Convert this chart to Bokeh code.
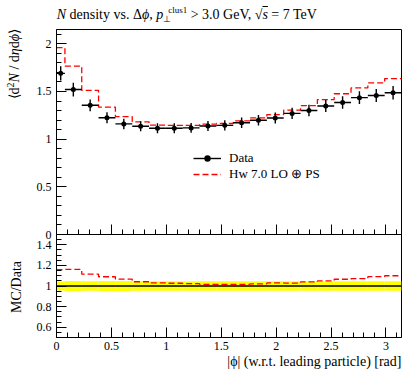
import math
from bokeh.plotting import figure
from bokeh.models import (Range1d, SingleIntervalTicker, FixedTicker, CustomJSTickFormatter,
                          Legend, LegendItem, LinearAxis, Title, Div, Span)
from bokeh.layouts import column, row
from bokeh.embed import file_html
from bokeh.resources import INLINE

# ---------------- data ----------------
n_bins_equiv = 20.5          # 20 full bins + a half bin starting at 0
data_vals = [1.69, 1.52, 1.355, 1.225, 1.16, 1.135, 1.115, 1.115, 1.118, 1.138, 1.145,
             1.172, 1.198, 1.222, 1.27, 1.30, 1.348, 1.385, 1.435, 1.458, 1.487]
data_errs = [0.075, 0.072, 0.062, 0.058, 0.055, 0.052, 0.052, 0.052, 0.052, 0.053, 0.054,
             0.055, 0.056, 0.057, 0.059, 0.061, 0.063, 0.065, 0.067, 0.068, 0.070]
mc_vals = [1.96, 1.765, 1.511, 1.335, 1.237, 1.182, 1.148, 1.145, 1.144, 1.157, 1.164,
           1.191, 1.223, 1.258, 1.305, 1.352, 1.415, 1.476, 1.537, 1.59, 1.635]
data_label = "Data"
mc_label = "Hw 7.0 LO \u2295 PS"
top_major_ticks = [0, 0.5, 1, 1.5, 2]
top_minor_ticks = [0.1, 0.2, 0.3, 0.4, 0.6, 0.7, 0.8, 0.9, 1.1, 1.2, 1.3, 1.4,
                   1.6, 1.7, 1.8, 1.9, 2.1]
ratio_major_ticks = [0.6, 0.8, 1.0, 1.2, 1.4]
ratio_minor_ticks = [0.55, 0.65, 0.7, 0.75, 0.85, 0.9, 0.95, 1.05, 1.1, 1.15,
                     1.25, 1.3, 1.35, 1.45]
title_html = ("<i>N</i> density vs. \u0394<i>\u03d5</i>, <i>p</i>"
              "<span style='font-size:9px;position:relative;top:3px'>\u22a5</span>"
              "<span style='font-size:9px;position:relative;top:-6px;margin-left:-3px'>clus1</span>"
              " &gt; 3.0 GeV, \u221a<span style='text-decoration:overline'><i>s</i></span> = 7 TeV")
ylabel_top_html = ("\u27e8d<span style='font-size:10px;position:relative;top:-5px'>2</span>"
                   "<i>N</i> / d<i>\u03b7</i>d<i>\u03d5</i>\u27e9")
ylabel_bot_text = "MC/Data"
xlabel_text = "|\u03d5| (w.r.t. leading particle) [rad]"

# ---------------- bins ----------------
w = math.pi / n_bins_equiv
edges = [0.0] + [w / 2 + k * w for k in range(len(data_vals))]
left = edges[:-1]
right = edges[1:]
centers = [(a + b) / 2 for a, b in zip(left, right)]
ratio = [m / d for m, d in zip(mc_vals, data_vals)]
rel = [e / d for e, d in zip(data_errs, data_vals)]

FONT = "Liberation Serif"
RED = "#ff0000"
YTOP = 2.15
TOP_H, BOT_H = 205.0, 103.0          # pixel heights of the two panels
K = BOT_H / TOP_H * YTOP             # main-units per ratio unit
TITLE_H = 29
YLAB_W = 28
FIG_W, FIG_H = 375, 341


def rpos(r):
    """position of a ratio value on the main (combined) y scale"""
    return (r - 1.5) * K


num_fmt = "return String(parseFloat(tick.toFixed(2)));"

p = figure(width=FIG_W, height=FIG_H, x_range=Range1d(0, math.pi),
           y_range=Range1d(rpos(0.5), YTOP), output_backend="svg", toolbar_location=None,
           min_border_left=28, min_border_right=2, min_border_top=0, min_border_bottom=33)
p.extra_y_ranges = {"ratio": Range1d(0.5, 1.5 + YTOP / K)}
p.grid.visible = False
p.outline_line_color = "black"
p.outline_line_width = 1


def tick_style(ax):
    ax.major_tick_in = 10
    ax.major_tick_out = 0
    ax.minor_tick_in = 5
    ax.minor_tick_out = 0
    ax.axis_line_color = "black"
    ax.major_tick_line_color = "black"
    ax.minor_tick_line_color = "black"
    ax.major_label_text_font = FONT
    ax.major_label_text_font_size = "12px"
    ax.major_label_text_color = "black"


yax = p.yaxis[0]
tick_style(yax)
yax.ticker = FixedTicker(ticks=top_major_ticks + [rpos(r) for r in ratio_major_ticks],
                         minor_ticks=top_minor_ticks + [rpos(r) for r in ratio_minor_ticks])
yax.formatter = CustomJSTickFormatter(
    args=dict(K=K),
    code="const v = tick < -1e-9 ? tick / K + 1.5 : tick; return String(parseFloat(v.toFixed(2)));")
yax.major_label_standoff = 5

xax = p.xaxis[0]
tick_style(xax)
xax.ticker = SingleIntervalTicker(interval=0.5, num_minor_ticks=5)
xax.formatter = CustomJSTickFormatter(code=num_fmt)
xax.major_label_standoff = 4

# axis at the boundary between the two panels (ticks only)
bax = LinearAxis(fixed_location=0, ticker=SingleIntervalTicker(interval=0.5, num_minor_ticks=5),
                 formatter=CustomJSTickFormatter(code="return '';"))
tick_style(bax)
p.add_layout(bax, "below")

# ---------------- main panel ----------------
mc_step = p.step(edges, mc_vals + [mc_vals[-1]], mode="after", line_color=RED,
                 line_dash="6 3", line_width=1.3)
xbar = p.segment(left, data_vals, right, data_vals, line_color="black", line_width=1.4)
p.segment(centers, [d - e for d, e in zip(data_vals, data_errs)],
          centers, [d + e for d, e in zip(data_vals, data_errs)],
          line_color="black", line_width=1.4)
dots = p.scatter(centers, data_vals, size=5, fill_color="black", line_color=None)

legend = Legend(items=[LegendItem(label=data_label, renderers=[xbar, dots]),
                       LegendItem(label=mc_label, renderers=[mc_step])],
                location=(137, 154.7), padding=0, spacing=0, margin=0,
                glyph_height=16, glyph_width=28, label_height=16, label_standoff=8,
                label_text_font=FONT, label_text_font_size="13px", label_text_color="black",
                border_line_alpha=0, background_fill_alpha=0)
p.add_layout(legend)

# ---------------- ratio panel ----------------
p.quad(left=left, right=right, bottom=[1 - r for r in rel], top=[1 + r for r in rel],
       fill_color="#ffff00", line_color=None, y_range_name="ratio")
p.add_layout(Span(location=1, dimension="width", line_color="black", line_width=1.5,
                  y_range_name="ratio"))
p.step(edges, ratio + [ratio[-1]], mode="after", line_color=RED, line_dash="6 3",
       line_width=1.3, y_range_name="ratio")

p.add_layout(Title(text=xlabel_text, align="right", text_font=FONT, text_font_size="14px",
                   text_font_style="normal", text_color="black", standoff=-2), "below")

# ---------------- texts as HTML ----------------
title_div = Div(text=("<div style=\"font-family:'Liberation Serif';font-size:14px;line-height:14px;"
                      "padding-left:56.7px;white-space:nowrap;color:black;position:relative;top:6.8px\">"
                      + title_html + "</div>"),
                width=YLAB_W + FIG_W, height=TITLE_H, margin=0)

span_css = ("position:absolute;transform-origin:0 0;white-space:nowrap;color:black;"
            "font-family:'Liberation Serif';font-size:14px;line-height:14px;")
ylab_div = Div(text=("<div style='position:relative;width:28px;height:341px'>"
                     "<span style=\"" + span_css + "left:7.8px;top:-0.5px;"
                     "transform:rotate(-90deg) translateX(-100%)\">" + ylabel_top_html + "</span>"
                     "<span style=\"" + span_css + "left:9.6px;top:257.7px;"
                     "transform:rotate(-90deg) translateX(-50%)\">" + ylabel_bot_text + "</span>"
                     "</div>"),
               width=YLAB_W, height=FIG_H, margin=0)

layout = column(title_div, row(ylab_div, p, spacing=0), spacing=0)
open("out.html", "w").write(file_html(layout, INLINE))
